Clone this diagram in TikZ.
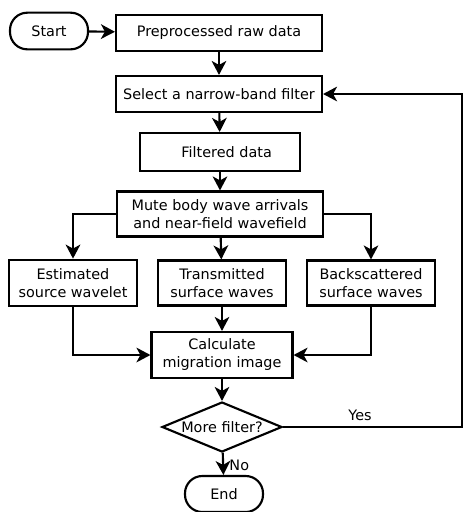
\documentclass[tikz,border=0pt]{standalone}
\usepackage{fontspec}
\setmainfont{DejaVu Sans}
\usepackage{tikz}
\usetikzlibrary{arrows.meta,shapes.geometric}

\begin{document}
\begin{tikzpicture}[x=0.75pt,y=-0.75pt,
		line width=1.6pt,
		>={Stealth[length=10.5pt,width=11pt,inset=3pt]},
		every node/.style={font=\fontsize{10.8}{13.5}\selectfont,align=center,inner sep=0pt},
		kasten/.style={draw,rectangle},
		ende/.style={draw,rectangle,rounded corners=13pt,minimum width=58.5pt,minimum height=27.5pt},
		frage/.style={draw,diamond,aspect=2.4,minimum width=90pt,minimum height=37.5pt}]
		\useasboundingbox (0,0) rectangle (463,512);
		%Knoten des Ablaufs
		\node[ende] (start) at (49,31) {Start};
		\node[kasten,minimum width=154.5pt,minimum height=27pt] (pre) at (219,33) {Preprocessed raw data};
		\node[kasten,minimum width=154.5pt,minimum height=27pt] (select) at (219,94) {Select a narrow-band filter};
		\node[kasten,minimum width=120pt,minimum height=28.5pt] (filt) at (220,152) {\hspace*{10pt}Filtered data};
		\node[kasten,minimum width=154.5pt,minimum height=33.75pt] (mute) at (220,214) {Mute body wave arrivals\\and near-field wavefield};
		\node[kasten,minimum width=96pt,minimum height=35pt] (est) at (73,283) {Estimated\\source wavelet};
		\node[kasten,minimum width=96pt,minimum height=33.75pt] (trans) at (222,283) {Transmitted\\surface waves};
		\node[kasten,minimum width=96pt,minimum height=33.75pt] (back) at (371,283) {Backscattered\\surface waves};
		\node[kasten,minimum width=105.75pt,minimum height=34.5pt] (calc) at (222,355) {Calculate\\migration image};
		\node[frage] (more) at (222,427) {More filter?};
		\node[ende,minimum height=27pt] (end) at (224,494) {End};
		\coordinate (ecke) at (462,427);

		\path [->]
		(start) edge (pre)
		(pre) edge (select)
		(select) edge (filt)
		(filt) edge (mute)
		(mute) edge (trans)
		(trans) edge (calc)
		(calc) edge (more)
		(more) edge node [right,xshift=4pt,yshift=-1pt]{No} (end)
		;
		\draw[->] (mute.west) -| (est.north);
		\draw[->] (mute.east) -| (back.north);
		\draw[->] (est.south) |- (calc.west);
		\draw[->] (back.south) |- (calc.east);
		\draw[->] (more.east) -- node [above,pos=0.43,yshift=4pt]{Yes} (ecke) |- (select.east);
\end{tikzpicture}
\end{document}
